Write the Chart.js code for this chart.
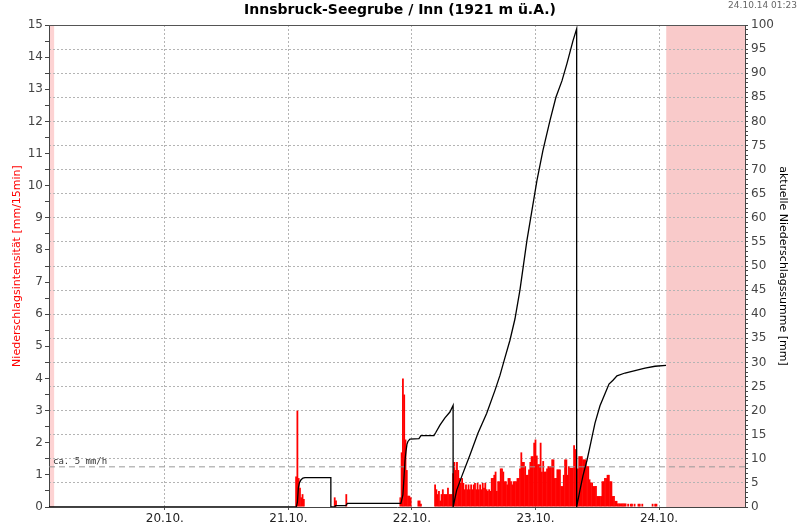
<!DOCTYPE html>
<html>
<head>
<script src="https://cdn.jsdelivr.net/npm/chart.js"></script>
<title>Innsbruck-Seegrube</title>
<style>
  body { margin: 0; background: #fff; }
  #box { width: 800px; height: 529px; }
</style>
</head>
<body>
<div id="box"><canvas id="myChart"></canvas></div>

<script>
// time in hours from 20.10. 00:00
const xMin = -22.5;
const xMax = 112.7;
const nowHour = 97.4;
const dayHours = [0, 24, 48, 72, 96];
const dayLabels = ['20.10.', '21.10.', '22.10.', '23.10.', '24.10.'];

// rain intensity, mm per 15 min, each array starts at its start hour
const rain21aStart = 25.5;
const rain21a = [0.95, 3.0, 0.9, 0.6, 0.3, 0.4, 0.25];
const rain21bStart = 33.0;
const rain21b = [0.3, 0.2];
const rain21cStart = 35.25;
const rain21c = [0.4];
const rain22aStart = 45.75;
const rain22a = [0.3, 1.7, 4.0, 3.5, 2.1, 1.15, 0.35, 0.35, 0.3];
const rain22bStart = 49.25;
const rain22b = [0.2, 0.2, 0.1];
const rain22cStart = 52.5;
const rain22c = [0.7, 0.55, 0.4, 0.5, 0.2, 0.4, 0.55, 0.4, 0.4, 0.4, 0.6, 0.4, 0.4, 0.4];
const rain23Start = 56.0;
const rain23 = [1.05, 1.4, 1.15, 1.4, 1.15, 0.9, 0.75, 0.9, 0.75, 0.55, 0.7, 0.55, 0.7, 0.55, 0.7, 0.55, 0.7, 0.75, 0.55, 0.75, 0.55, 0.7, 0.55, 0.75, 0.6, 0.75, 0.55,
  0.5, 0.55, 0.5, 0.9, 0.9, 1.0, 1.1, 0.5, 0.8, 0.8, 1.2, 1.2, 1.1, 0.8, 0.8, 0.7, 0.9, 0.9, 0.8, 0.7, 0.8, 0.8, 0.8, 0.9, 0.9, 1.2, 1.7, 1.4, 1.4, 1.27, 1.0, 1.0, 1.17, 1.4, 1.58, 1.58, 2.0, 2.1, 1.6, 1.33, 1.33, 2.0, 1.1, 1.43, 1.1, 1.1, 1.2,
  1.27, 1.27, 1.27, 1.48, 1.48, 0.9, 0.9, 1.17, 1.17, 1.17, 0.65, 0.65, 1.0, 1.48, 1.48, 1.0, 1.27, 1.22, 1.22, 1.22, 1.92, 1.8];
const rain24Start = 80.0;
const rain24 = [1.17, 1.2, 1.58, 1.58, 1.58, 1.48, 1.48, 1.48, 1.27, 1.27, 0.86, 0.76, 0.76, 0.65, 0.65, 0.65, 0.34, 0.34, 0.34, 0.34, 0.8, 0.8, 0.9, 0.9, 1.0, 1.0, 0.8, 0.8, 0.34, 0.34, 0.19, 0.19,
  0.11, 0.11, 0.11, 0.11, 0.11, 0.11, 0.11, 0, 0.1, 0, 0.1, 0.1, 0, 0.1, 0, 0, 0.1, 0.1, 0, 0.1, 0, 0, 0, 0, 0, 0, 0, 0.1, 0, 0.1, 0.1];

// running precipitation sum (mm), resets every morning
const sumHours = [-22.5, 25.55, 25.75, 25.94, 26.14, 26.43, 26.82, 27.21, 32.25, 32.25, 33.04, 33.14, 35.17, 35.46,
  45.86, 46.25, 46.45, 46.64, 46.84, 47.03, 47.22, 47.61, 49.36, 49.75, 52.27, 52.66, 53.44, 54.41, 55.38, 56.0, 56.0,
  56.7, 57.66, 59.27, 60.82, 62.51, 64.13, 65.1, 66.07, 67.04, 68.01, 68.98, 70.34, 72.28, 73.45, 74.8, 75.97, 77.14, 78.11, 79.28, 80.0, 80.0,
  80.64, 81.23, 82.01, 82.78, 83.56, 84.53, 85.5, 86.28, 87.06, 87.83, 89.39, 91.33, 93.28, 95.22, 97.36];
const sumValues = [0, 0, 1.0, 4.0, 5.0, 5.6, 6.0, 6.1, 6.1, 0, 0, 0.3, 0.3, 0.75,
  0.75, 2.5, 6.0, 9.5, 11.5, 13.0, 13.6, 14.1, 14.2, 14.8, 14.8, 15.5, 17.0, 18.5, 19.7, 21.1, 0,
  3.5, 6.3, 10.8, 15.3, 19.4, 24.2, 27.3, 31.0, 34.6, 39, 45, 55.3, 67.7, 74, 80.1, 85, 88.4, 92, 96.7, 99.2, 0,
  3.5, 6.5, 9.7, 13.5, 17.4, 21, 23.5, 25.5, 26.3, 27.2, 27.8, 28.3, 28.8, 29.2, 29.4];

const threshold = 1.25; // ca. 5 mm/h

const rainSets = [[rain21aStart, rain21a], [rain21bStart, rain21b], [rain21cStart, rain21c],
  [rain22aStart, rain22a], [rain22bStart, rain22b], [rain22cStart, rain22c],
  [rain23Start, rain23], [rain24Start, rain24]];
const rainPoints = [];
rainSets.forEach(s => {
  s[1].forEach((v, i) => rainPoints.push({x: s[0] + i * 0.25, y: v}));
});
const sumPoints = sumHours.map((h, i) => ({x: h, y: sumValues[i]}));

const fontFam = 'DejaVu Sans';

const decor = {
  id: 'decor',
  beforeDraw(chart) {
    const ctx = chart.ctx;
    const a = chart.chartArea;
    const x = chart.scales.x;
    ctx.save();
    ctx.fillStyle = '#fdd3d3';
    const l1 = x.getPixelForValue(xMin), l2 = x.getPixelForValue(-21.5);
    ctx.fillRect(l1, a.top, l2 - l1, a.bottom - a.top);
    ctx.fillStyle = '#f9caca';
    const f1 = x.getPixelForValue(nowHour);
    ctx.fillRect(f1, a.top, a.right - f1, a.bottom - a.top);
    ctx.restore();
  },
  afterDraw(chart) {
    const ctx = chart.ctx;
    const a = chart.chartArea;
    ctx.save();
    ctx.strokeStyle = '#555';
    ctx.lineWidth = 1;
    ctx.beginPath();
    ctx.moveTo(a.left, a.top + 0.5);
    ctx.lineTo(a.right, a.top + 0.5);
    ctx.stroke();

    ctx.fillStyle = '#000';
    ctx.font = 'bold 14px ' + fontFam;
    ctx.textAlign = 'center';
    ctx.textBaseline = 'middle';
    ctx.fillText('Innsbruck-Seegrube / Inn (1921 m ü.A.)', 400, 10);

    ctx.fillStyle = '#666';
    ctx.font = '9px ' + fontFam;
    ctx.textAlign = 'right';
    ctx.fillText('24.10.14 01:23', 797, 6);

    const ty = chart.scales.y.getPixelForValue(threshold);
    ctx.fillStyle = '#333';
    ctx.font = '9px DejaVu Sans Mono';
    ctx.textAlign = 'left';
    ctx.textBaseline = 'alphabetic';
    ctx.fillText('ca. 5 mm/h', a.left + 4, ty - 3);
    ctx.restore();
  }
};

const ctx = document.getElementById('myChart');
new Chart(ctx, {
  type: 'bar',
  data: {
    datasets: [{
      type: 'line',
      data: sumPoints,
      yAxisID: 'y2',
      borderColor: '#000',
      borderWidth: 1.3,
      pointRadius: 0,
      tension: 0,
      order: 0
    }, {
      type: 'line',
      data: [{x: xMin, y: threshold}, {x: xMax, y: threshold}],
      yAxisID: 'y',
      borderColor: '#999',
      borderWidth: 1,
      borderDash: [6, 4],
      pointRadius: 0,
      order: 1
    }, {
      type: 'bar',
      data: rainPoints,
      yAxisID: 'y',
      backgroundColor: '#ff0000',
      borderWidth: 0,
      barThickness: 1.8,
      inflateAmount: 0,
      order: 2
    }]
  },
  plugins: [decor],
  options: {
    responsive: true,
    maintainAspectRatio: false,
    animation: false,
    layout: { padding: { top: 25, left: 0, right: 0, bottom: 0 } },
    plugins: { legend: { display: false }, tooltip: { enabled: false } },
    scales: {
      x: {
        type: 'linear',
        min: xMin,
        max: xMax,
        offset: false,
        afterBuildTicks: s => { s.ticks = dayHours.map(v => ({value: v})); },
        afterFit: s => { s.height = 22; },
        ticks: {
          autoSkip: false,
          maxRotation: 0,
          padding: 2,
          color: '#222',
          font: { family: fontFam, size: 12 },
          callback: v => dayLabels[dayHours.indexOf(v)]
        },
        grid: { offset: false, color: '#b4b4b4', tickLength: 3, tickColor: '#555' },
        border: { color: '#444', dash: [2, 2] }
      },
      y: {
        position: 'left',
        min: 0,
        max: 15,
        afterFit: s => { s.width = 49; },
        ticks: {
          stepSize: 0.5,
          autoSkip: false,
          padding: 2,
          color: '#444',
          font: { family: fontFam, size: 12 },
          callback: v => (Number.isInteger(v) ? v : '')
        },
        grid: { drawOnChartArea: false, tickLength: 4, tickColor: '#444' },
        border: { color: '#444' },
        title: {
          display: true,
          text: 'Niederschlagsintensität [mm/15min]',
          color: '#ff0000',
          font: { family: fontFam, size: 11 },
          padding: { top: 11, bottom: 0 }
        }
      },
      y2: {
        position: 'right',
        min: 0,
        max: 100,
        afterFit: s => { s.width = 55; },
        ticks: {
          stepSize: 1,
          autoSkip: false,
          padding: 3,
          color: '#444',
          font: { family: fontFam, size: 12 },
          callback: v => (v % 5 === 0 ? v : '')
        },
        grid: {
          color: c => (c.tick && c.tick.value % 5 === 0 && c.tick.value > 0 && c.tick.value < 100 ? '#b4b4b4' : 'transparent'),
          tickLength: 3,
          tickColor: '#444'
        },
        border: { color: '#444', dash: [2, 2] },
        title: {
          display: true,
          text: 'aktuelle Niederschlagssumme [mm]',
          color: '#000',
          font: { family: fontFam, size: 11 },
          padding: { top: 11, bottom: 0 }
        }
      }
    }
  }
});
</script>
</body>
</html>
